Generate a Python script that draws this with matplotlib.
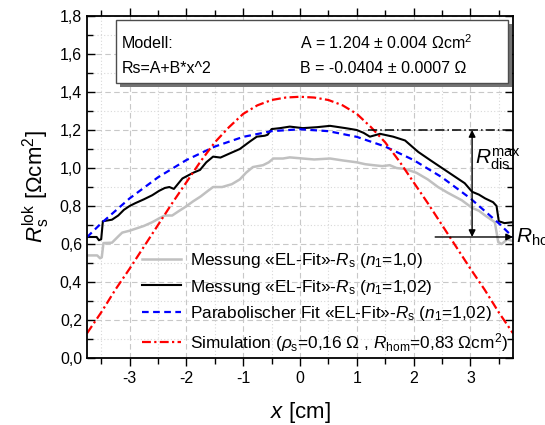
#===============================================================================
#                               General Documentation
"""Plot of the local series resistance from EL fits, a parabolic fit and
    a simulation across the cell.
"""
#===============================================================================

import matplotlib
matplotlib.use("Agg")
import matplotlib.pyplot as plt
from matplotlib.patches import Rectangle
from matplotlib.ticker import MultipleLocator, FormatStrFormatter

# Messung "EL-Fit" Rs, n1 = 1,0 (gray)
xGray = [-3.75, -3.57, -3.52, -3.49, -3.46, -3.31, -3.20, -3.13, -3.00, -2.90,
         -2.75, -2.60, -2.48, -2.38, -2.25, -2.15, -2.02, -1.88, -1.75, -1.62,
         -1.53, -1.37, -1.20, -1.06, -0.95, -0.83, -0.65, -0.55, -0.47, -0.30,
         -0.18, 0.05, 0.25, 0.53, 0.75, 1.00, 1.15, 1.29, 1.45, 1.58, 1.70,
         1.85, 2.05, 2.25, 2.43, 2.60, 2.85, 3.03, 3.15, 3.26, 3.43, 3.49,
         3.55, 3.65, 3.75]
yGray = [0.540, 0.540, 0.525, 0.530, 0.605, 0.607, 0.640, 0.660, 0.670, 0.680,
         0.695, 0.715, 0.735, 0.750, 0.750, 0.770, 0.795, 0.825, 0.850, 0.880,
         0.900, 0.900, 0.915, 0.940, 0.975, 1.005, 1.015, 1.030, 1.050, 1.050,
         1.056, 1.050, 1.045, 1.050, 1.040, 1.030, 1.020, 1.015, 1.010, 1.015,
         1.000, 0.995, 0.975, 0.940, 0.900, 0.870, 0.830, 0.790, 0.775, 0.750,
         0.715, 0.610, 0.600, 0.625, 0.615]

# Messung "EL-Fit" Rs, n1 = 1,02 (black)
xBlack = [-3.75, -3.58, -3.54, -3.50, -3.47, -3.31, -3.20, -3.10, -3.00, -2.90,
          -2.75, -2.60, -2.48, -2.38, -2.30, -2.22, -2.07, -1.88, -1.76, -1.65,
          -1.53, -1.40, -1.25, -1.06, -0.88, -0.76, -0.62, -0.57, -0.50, -0.35,
          -0.18, 0.05, 0.30, 0.53, 0.80, 1.00, 1.12, 1.23, 1.41, 1.64, 1.85,
          2.08, 2.30, 2.50, 2.70, 2.90, 3.03, 3.15, 3.26, 3.40, 3.46, 3.50,
          3.60, 3.75]
yBlack = [0.637, 0.637, 0.620, 0.625, 0.720, 0.728, 0.750, 0.780, 0.800, 0.815,
          0.835, 0.857, 0.880, 0.895, 0.900, 0.890, 0.945, 0.975, 0.990, 1.030,
          1.060, 1.055, 1.075, 1.100, 1.140, 1.165, 1.170, 1.175, 1.205, 1.210,
          1.218, 1.210, 1.215, 1.222, 1.210, 1.200, 1.185, 1.165, 1.180, 1.165,
          1.145, 1.085, 1.040, 1.000, 0.960, 0.920, 0.875, 0.860, 0.840, 0.820,
          0.800, 0.720, 0.710, 0.715]

# Parabolischer Fit (blue dashed)
xFit = [-3.75, -3.5, -3.0, -2.5, -2.0, -1.5, -1.0, -0.5, 0.0,
        0.5, 1.0, 1.5, 2.0, 2.5, 3.0, 3.5, 3.75]
yFit = [0.636, 0.709, 0.840, 0.951, 1.042, 1.113, 1.164, 1.194, 1.204,
        1.194, 1.164, 1.113, 1.042, 0.951, 0.840, 0.709, 0.636]

# Simulation (red dash-dot)
xSim = [-3.75, -3.5, -3.25, -3.0, -2.75, -2.5, -2.25, -2.0, -1.75, -1.5,
        -1.25, -1.0, -0.75, -0.5, -0.25, 0.0, 0.25, 0.5, 0.75, 1.0, 1.25,
        1.5, 1.75, 2.0, 2.25, 2.5, 2.75, 3.0, 3.25, 3.5, 3.75]
ySim = [0.130, 0.240, 0.360, 0.470, 0.585, 0.700, 0.815, 0.925, 1.035, 1.135,
        1.215, 1.285, 1.330, 1.358, 1.371, 1.375, 1.371, 1.358, 1.330, 1.285,
        1.215, 1.135, 1.035, 0.925, 0.815, 0.700, 0.585, 0.470, 0.360, 0.240,
        0.130]

labels = [r"Messung «EL-Fit»-$R_\mathrm{s}$ ($n_\mathrm{1}$=1,0)",
          r"Messung «EL-Fit»-$R_\mathrm{s}$ ($n_\mathrm{1}$=1,02)",
          r"Parabolischer Fit «EL-Fit»-$R_\mathrm{s}$ ($n_\mathrm{1}$=1,02)",
          r"Simulation ($\rho_\mathrm{s}$=0,16 Ω , $R_\mathrm{hom}$=0,83 Ωcm$^\mathrm{2}$)"]

rMax = 1.2
rHom = 0.637


def main():
    plt.rcParams["font.family"] = ["Liberation Sans", "DejaVu Sans"]
    plt.rcParams["mathtext.fontset"] = "custom"
    plt.rcParams["mathtext.rm"] = "Liberation Sans"
    plt.rcParams["mathtext.it"] = "Liberation Sans:italic"
    plt.rcParams["mathtext.bf"] = "Liberation Sans:bold"
    plt.rcParams["axes.unicode_minus"] = False

    fig = plt.figure(figsize=(5.45, 4.25), dpi=100)
    ax = fig.add_axes([0.1596, 0.1576, 0.7817, 0.8047])

    ax.plot(xGray, yGray, color="#c0c0c0", lw=1.8, label=labels[0])
    ax.plot(xBlack, yBlack, color="black", lw=1.5, label=labels[1])
    ax.plot(xFit, yFit, color="#0000ff", lw=1.6, ls=(0, (3, 2)), label=labels[2])
    ax.plot(xSim, ySim, color="#ff0000", lw=1.6, ls=(0, (4, 1.5, 1, 1.5)),
            label=labels[3])

    # R_dis^max / R_hom annotation
    ax.plot([1.2, 3.75], [rMax, rMax], color="black", lw=1.1,
            ls=(0, (6, 2, 1, 2)))
    ax.annotate("", xy=(3.03, rMax), xytext=(3.03, rHom),
                arrowprops=dict(arrowstyle="<|-|>", color="black", lw=1.0,
                                mutation_scale=10, shrinkA=0, shrinkB=0))
    ax.annotate("", xy=(3.75, rHom), xytext=(2.38, rHom),
                arrowprops=dict(arrowstyle="-|>", color="black", lw=1.0,
                                mutation_scale=10, shrinkA=0, shrinkB=0))
    ax.text(3.08, 1.02, r"$R_\mathrm{dis}^\mathrm{max}$", fontsize=15)
    ax.text(3.80, rHom, r"$R_\mathrm{hom}$", fontsize=15, va="center",
            clip_on=False)

    # fit parameter box with shadow
    ax.add_patch(Rectangle((0.077, 0.792), 0.92, 0.184, transform=ax.transAxes,
                           facecolor="0.45", edgecolor="none", zorder=4))
    ax.add_patch(Rectangle((0.068, 0.804), 0.92, 0.184, transform=ax.transAxes,
                           facecolor="white", edgecolor="0.3", lw=1.0, zorder=5))
    ax.text(0.082, 0.921, "Modell:", transform=ax.transAxes, fontsize=11.5,
            va="center", zorder=6)
    ax.text(0.082, 0.848, "Rs=A+B*x^2", transform=ax.transAxes, fontsize=11.5,
            va="center", zorder=6)
    ax.text(0.5, 0.921, r"A = 1.204 ± 0.004 Ωcm$^\mathrm{2}$",
            transform=ax.transAxes, fontsize=11.5, va="center", zorder=6)
    ax.text(0.5, 0.848, "B = -0.0404 ± 0.0007 Ω", transform=ax.transAxes,
            fontsize=11.5, va="center", zorder=6)

    ax.set_xlim(-3.75, 3.75)
    ax.set_ylim(0.0, 1.8)
    ax.xaxis.set_major_locator(MultipleLocator(1))
    ax.xaxis.set_minor_locator(MultipleLocator(0.5))
    ax.yaxis.set_major_locator(MultipleLocator(0.2))
    ax.yaxis.set_minor_locator(MultipleLocator(0.1))
    ax.yaxis.set_major_formatter(FormatStrFormatter("%.1f"))
    ax.set_yticklabels([("%.1f" % v).replace(".", ",")
                        for v in ax.get_yticks()])

    ax.grid(True, which="major", color="#c8c8c8", ls=(0, (5, 3)), lw=0.8)
    ax.grid(True, which="minor", color="#d8d8d8", ls=(0, (1, 2)), lw=0.8)
    ax.set_axisbelow(True)

    ax.tick_params(which="both", direction="in", top=True, right=True,
                   labelsize=11.5, width=1.0)
    ax.tick_params(axis="x", which="both", direction="out")
    ax.tick_params(which="major", length=6)
    ax.tick_params(which="minor", length=4)
    for s in ax.spines.values():
        s.set_linewidth(1.3)

    ax.set_xlabel(r"$x$ [cm]", fontsize=16, labelpad=10)
    ax.set_ylabel(r"$R_\mathrm{s}^\mathrm{lok}$ [Ωcm$^\mathrm{2}$]",
                  fontsize=16, labelpad=6)

    ax.legend(loc="lower left", bbox_to_anchor=(0.128, 0.012), frameon=False,
              fontsize=12.4, handlelength=2.3, handletextpad=0.5,
              borderpad=0, borderaxespad=0, labelspacing=0.45)

    fig.savefig("out.png", dpi=100)


if (__name__ == "__main__"):
    main()
